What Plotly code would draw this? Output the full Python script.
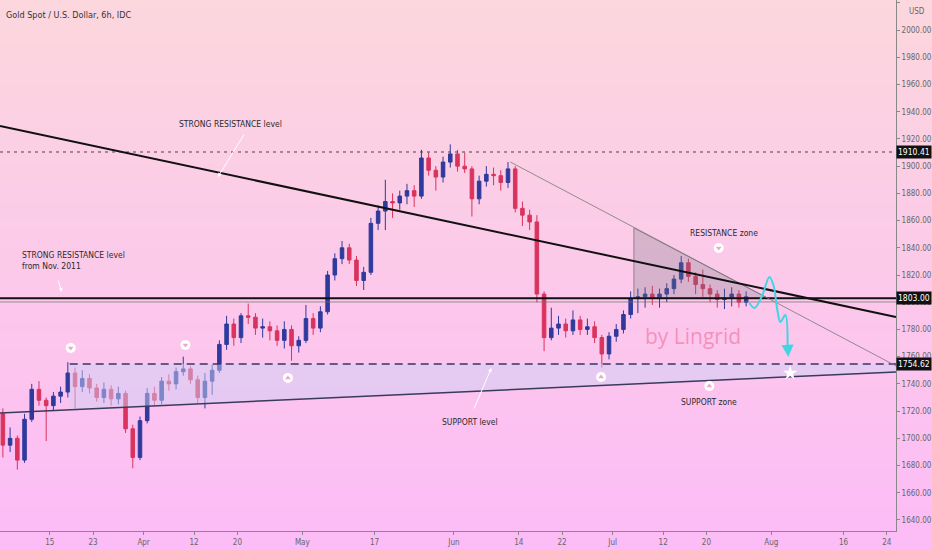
import plotly.graph_objects as go
import numpy as np

# trading-day index (0 = Mar 15 2021), daily OHLC
days = list(range(-7, 97))
opens = [1718, 1695, 1700, 1684, 1714, 1736, 1728,
         1724, 1731, 1734, 1748, 1738, 1744, 1737, 1730, 1736, 1729,
         1733, 1707, 1686, 1713, 1733, 1728, 1742, 1740, 1749, 1751,
         1743, 1730, 1742, 1750, 1769, 1784, 1774, 1790, 1789, 1781,
         1782, 1779, 1772, 1780, 1768, 1772, 1788, 1781, 1793, 1820,
         1832, 1840, 1831, 1816, 1822, 1858, 1867, 1874, 1873, 1878,
         1882, 1878, 1906, 1897, 1892, 1903, 1909, 1900, 1898, 1876,
         1889, 1894, 1893, 1888, 1898, 1869, 1864, 1859, 1806, 1774,
         1781, 1784, 1779, 1787, 1780, 1782, 1774, 1762, 1775, 1780,
         1791, 1803, 1804, 1806, 1803, 1806, 1810, 1817, 1829, 1819,
         1813, 1810, 1806, 1802, 1803, 1806, 1800]
highs = [1722, 1708, 1702, 1718, 1740, 1742, 1730,
         1734, 1738, 1756, 1752, 1750, 1747, 1740, 1741, 1739, 1738,
         1735, 1710, 1716, 1737, 1738, 1745, 1747, 1752, 1760, 1753,
         1746, 1748, 1754, 1772, 1790, 1788, 1792, 1799, 1792, 1788,
         1786, 1783, 1786, 1783, 1775, 1798, 1792, 1797, 1823, 1836,
         1845, 1843, 1834, 1826, 1862, 1871, 1890, 1880, 1882, 1887,
         1886, 1912, 1910, 1900, 1907, 1916, 1912, 1910, 1900, 1893,
         1900, 1899, 1897, 1903, 1900, 1874, 1868, 1864, 1808, 1796,
         1790, 1788, 1794, 1790, 1788, 1786, 1776, 1778, 1784, 1794,
         1808, 1810, 1811, 1812, 1810, 1814, 1820, 1834, 1832, 1822,
         1824, 1813, 1809, 1810, 1811, 1809, 1808]
lows = [1686, 1690, 1677, 1682, 1712, 1724, 1698,
        1720, 1726, 1730, 1722, 1734, 1733, 1727, 1726, 1724, 1725,
        1704, 1678, 1684, 1711, 1724, 1725, 1735, 1736, 1746, 1740,
        1726, 1722, 1732, 1748, 1765, 1768, 1770, 1784, 1776, 1774,
        1772, 1768, 1766, 1757, 1763, 1770, 1776, 1778, 1791, 1816,
        1828, 1828, 1812, 1809, 1820, 1853, 1853, 1862, 1868, 1872,
        1870, 1876, 1893, 1882, 1888, 1899, 1896, 1895, 1863, 1872,
        1885, 1886, 1882, 1884, 1866, 1856, 1853, 1800, 1764, 1772,
        1776, 1774, 1776, 1776, 1776, 1770, 1752, 1758, 1771, 1777,
        1788, 1792, 1796, 1798, 1796, 1800, 1806, 1814, 1815, 1806,
        1804, 1800, 1796, 1795, 1797, 1796, 1797]
closes = [1695, 1700, 1684, 1714, 1736, 1728, 1724,
          1731, 1734, 1748, 1738, 1744, 1737, 1730, 1736, 1729, 1733,
          1707, 1686, 1713, 1733, 1728, 1742, 1740, 1749, 1751, 1743,
          1730, 1742, 1750, 1769, 1784, 1774, 1790, 1789, 1781, 1782,
          1779, 1772, 1780, 1768, 1772, 1788, 1781, 1793, 1820, 1832,
          1840, 1831, 1816, 1822, 1858, 1867, 1874, 1873, 1878, 1882,
          1878, 1906, 1897, 1892, 1903, 1909, 1900, 1898, 1876, 1889,
          1894, 1893, 1888, 1898, 1869, 1864, 1859, 1806, 1774, 1781,
          1784, 1779, 1787, 1780, 1782, 1774, 1762, 1775, 1780, 1791,
          1803, 1804, 1806, 1803, 1806, 1810, 1817, 1829, 1819, 1813,
          1810, 1806, 1802, 1803, 1806, 1800, 1804]

# x-axis ticks (trading-day index) and labels
tick_days = [0, 6, 13, 20, 26, 35, 45, 56, 65, 71, 78, 85, 91, 100, 110, 116]
tick_text = ["15", "23", "Apr", "12", "20", "May", "17", "Jun", "14", "22",
             "Jul", "12", "20", "Aug", "16", "24"]

# drawn levels
resistance_top = 1910.41
level_1803 = 1803.00
support_level = 1754.62
x_min, x_max = -6.9, 117.27

big_trend_x = [x_min, x_max]
big_trend_y = [1929.5, 1789.2]
support_line_x = [x_min, x_max]
support_line_y = [1718.6, 1748.8]
thin_trend_x = [63.81, x_max]
thin_trend_y = [1903.1, 1753.2]
zone_x = [2.76, x_max, x_max, 2.76]
zone_y = [support_level, support_level, 1748.8, 1720.9]
tri_x = [80.94, 99.45, 80.94, 80.94]
tri_y = [1854.6, 1803.1, 1803.1, 1854.6]
proj_x = [96.96, 97.65, 98.76, 99.72, 100.28, 100.83, 101.24, 101.93, 102.25]
proj_y = [1799.4, 1795.8, 1805.3, 1818.6, 1812.7, 1794.3, 1785.5, 1790.6, 1768.0]

icon_down_x = [2.9, 18.8, 92.7]
icon_down_y = [1766.4, 1768.6, 1839.9]
icon_up_x = [33.0, 76.4, 91.4]
icon_up_y = [1744.4, 1745.1, 1738.5]

txt_font = "Liberation Sans Narrow, DejaVu Sans Condensed, Arial Narrow, sans-serif"

fig = go.Figure()

# gradient background as stacked bands
top_c = np.array([252, 215, 222])
bot_c = np.array([252, 188, 247])
n_bands = 60
y_lo, y_hi = -0.04, 1.0
for i in range(n_bands):
    t = i / (n_bands - 1)
    c = top_c * (1 - t) + bot_c * t
    y1 = y_hi - (y_hi - y_lo) * i / n_bands
    y0 = y_hi - (y_hi - y_lo) * (i + 1) / n_bands
    fig.add_shape(type="rect", xref="paper", yref="paper", x0=-0.01, x1=1.05,
                  y0=y0 - 0.002, y1=y1, line_width=0, layer="below",
                  fillcolor="rgb(%d,%d,%d)" % tuple(c.astype(int)))

# support zone fill
fig.add_trace(go.Scatter(x=zone_x, y=zone_y, fill="toself", mode="lines",
                         line=dict(width=0), fillcolor="rgba(205,208,245,0.5)",
                         hoverinfo="skip", showlegend=False))
# resistance triangle
fig.add_trace(go.Scatter(x=tri_x, y=tri_y, fill="toself", mode="lines",
                         line=dict(width=1, color="rgba(110,110,110,0.7)"),
                         fillcolor="rgba(120,120,130,0.28)",
                         hoverinfo="skip", showlegend=False))

# horizontal levels
fig.add_trace(go.Scatter(x=[x_min, x_max], y=[resistance_top] * 2, mode="lines",
                         line=dict(color="#444", width=1, dash="3px,4px"),
                         showlegend=False))
fig.add_trace(go.Scatter(x=[x_min, x_max], y=[1800.2] * 2, mode="lines",
                         line=dict(color="rgba(110,110,110,0.7)", width=1),
                         showlegend=False))
fig.add_trace(go.Scatter(x=[x_min, x_max], y=[level_1803] * 2, mode="lines",
                         line=dict(color="#111", width=2), showlegend=False))
fig.add_trace(go.Scatter(x=[2.76, x_max], y=[support_level] * 2, mode="lines",
                         line=dict(color="#3a3560", width=1.5, dash="8px,5px"),
                         showlegend=False))

# trend lines
fig.add_trace(go.Scatter(x=support_line_x, y=support_line_y, mode="lines",
                         line=dict(color="#3a3a5a", width=1.5), showlegend=False))
fig.add_trace(go.Scatter(x=thin_trend_x, y=thin_trend_y, mode="lines",
                         line=dict(color="rgba(120,120,120,0.8)", width=1),
                         showlegend=False))

# candles
fig.add_trace(go.Candlestick(
    x=np.array(days) + 0.5, open=opens, high=highs, low=lows, close=closes,
    increasing=dict(line=dict(color="#2e3a9c", width=1), fillcolor="#2e3a9c"),
    decreasing=dict(line=dict(color="#d9335e", width=1), fillcolor="#d9335e"),
    whiskerwidth=0, showlegend=False))

fig.add_trace(go.Scatter(x=big_trend_x, y=big_trend_y, mode="lines",
                         line=dict(color="#111", width=2), showlegend=False))

# projected path
fig.add_trace(go.Scatter(x=proj_x, y=proj_y, mode="lines",
                         line=dict(color="#3fd6e2", width=2, shape="spline"),
                         showlegend=False))
fig.add_annotation(x=102.35, y=1759.8, ax=proj_x[-1], ay=proj_y[-1], axref="x", ayref="y",
                   text="", showarrow=True, arrowhead=2, arrowsize=1.2,
                   arrowwidth=2, arrowcolor="#3fd6e2")

# icons
fig.add_trace(go.Scatter(x=icon_down_x + icon_up_x, y=icon_down_y + icon_up_y, mode="markers",
                         marker=dict(symbol="circle", size=10, color="white",
                                     line=dict(width=0)), showlegend=False))
fig.add_trace(go.Scatter(x=icon_down_x, y=icon_down_y, mode="markers",
                         marker=dict(symbol="triangle-down", size=5, color="#f2a6c6"),
                         showlegend=False))
fig.add_trace(go.Scatter(x=icon_up_x, y=icon_up_y, mode="markers",
                         marker=dict(symbol="triangle-up", size=5, color="#f2a6c6"),
                         showlegend=False))
fig.add_trace(go.Scatter(x=[102.6], y=[1748.0], mode="markers",
                         marker=dict(symbol="star", size=11, color="white"),
                         showlegend=False))

# text annotations
def note(x, y, text, **kw):
    fig.add_annotation(x=x, y=y, text=text, showarrow=False,
                       font=dict(family=txt_font, size=8.5, color="#2a2a2a"), **kw)

note(25.1, 1931, "STRONG RESISTANCE level")
note(-4.14, 1831, "STRONG RESISTANCE level<br>from Nov. 2011", xanchor="left", align="left")
note(93.5, 1850.9, "RESISTANCE zone")
note(58.3, 1712.0, "SUPPORT level")
note(91.4, 1726.7, "SUPPORT zone")

for tx, ty, dx, dy in [(23.3, 1892.0, 27, -44), (1.66, 1807.5, -4, -13),
                       (61.2, 1751.7, -18, 42)]:
    fig.add_annotation(x=tx, y=ty, ax=dx, ay=dy, text="", showarrow=True,
                       arrowhead=2, arrowsize=0.8, arrowwidth=1, arrowcolor="white")

fig.add_annotation(x=89.2, y=1775.2, text="by Lingrid", showarrow=False,
                   font=dict(family="Open Sans, sans-serif", size=21,
                             color="rgba(236,110,155,0.6)"))

fig.add_annotation(x=0.004, y=0.985, xref="paper", yref="paper", xanchor="left",
                   text="Gold Spot / U.S. Dollar, 6h, IDC", showarrow=False,
                   font=dict(family=txt_font, size=9, color="#333"))
fig.add_annotation(x=1.012, y=0.99, xref="paper", yref="paper", xanchor="left",
                   yanchor="top", text="USD", showarrow=False,
                   font=dict(family=txt_font, size=8, color="#666"))

# price labels on the axis
for lvl in [resistance_top, level_1803, support_level]:
    fig.add_annotation(x=1.0, y=lvl, xref="paper", yref="y", xanchor="left",
                       text="%.2f" % lvl, showarrow=False, bgcolor="#111",
                       borderpad=1, font=dict(family=txt_font, size=8.5, color="white"))

fig.update_layout(
    width=932, height=550,
    margin=dict(l=0, r=33, t=0, b=19),
    paper_bgcolor="rgb(252,202,234)",
    plot_bgcolor="rgba(0,0,0,0)",
    showlegend=False,
    xaxis=dict(range=[x_min, x_max], tickvals=tick_days, ticktext=tick_text,
               showgrid=False, zeroline=False, rangeslider=dict(visible=False),
               showline=True, linecolor="#888", linewidth=1, ticks="outside",
               ticklen=3, tickcolor="#888",
               tickfont=dict(family=txt_font, size=8, color="#666")),
    yaxis=dict(range=[1631.9, 2022.1], side="right", dtick=20, tickformat=".2f",
               showgrid=False, zeroline=False, showline=True, linecolor="#888",
               linewidth=1, ticks="outside", ticklen=3, tickcolor="#888",
               tickfont=dict(family=txt_font, size=8, color="#666")),
)

fig.write_html("out.html", config={"displayModeBar": False},
               post_script="document.body.style.margin='0';document.body.style.overflow='hidden';")
